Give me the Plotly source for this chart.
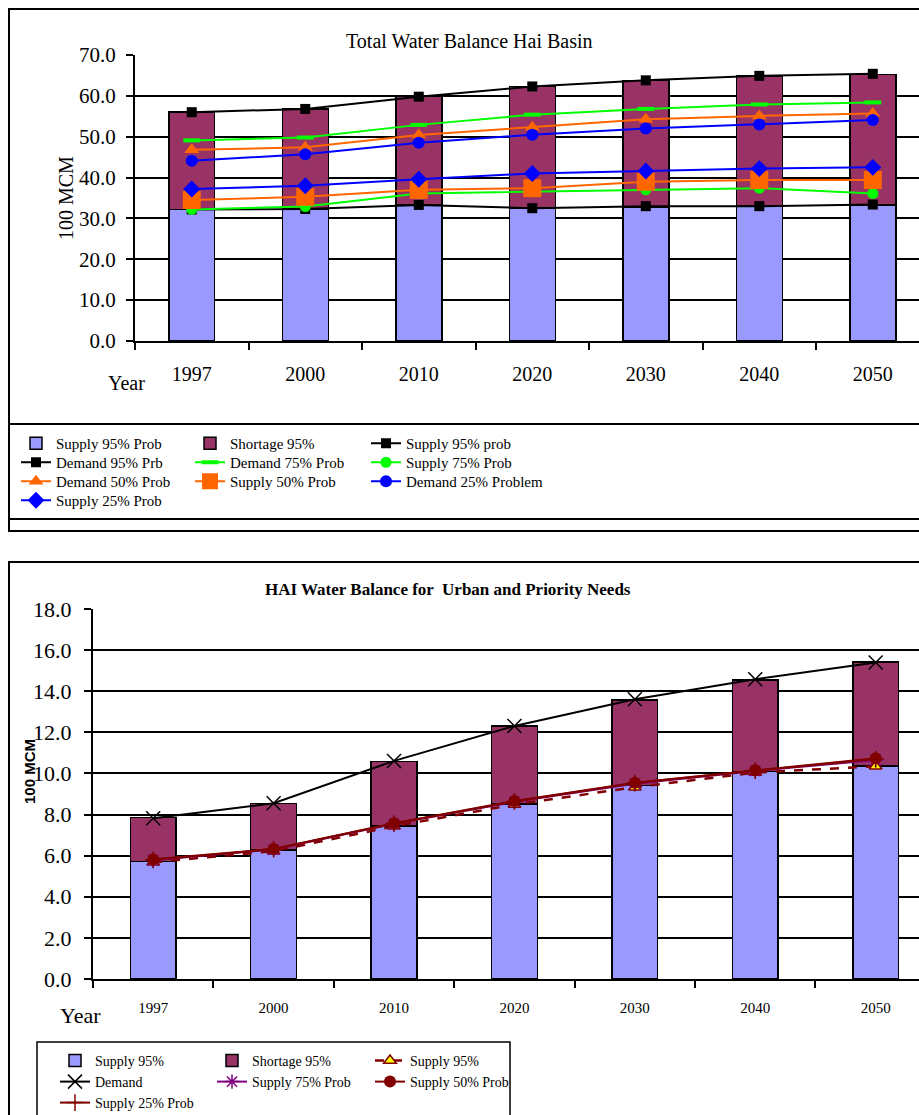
import plotly.graph_objects as go

W, H = 919, 1115

years = ["1997", "2000", "2010", "2020", "2030", "2040", "2050"]

# ---- Top chart: Total Water Balance Hai Basin (100 MCM)
t_supply95_bar = [32.2, 32.3, 33.3, 32.5, 32.8, 33.0, 33.3]
t_shortage95 = [23.8, 24.5, 26.5, 29.8, 30.9, 31.9, 31.9]
t_demand95 = [56.0, 56.8, 59.8, 62.3, 63.8, 64.9, 65.4]
t_supply95 = [32.2, 32.3, 33.3, 32.5, 33.0, 33.0, 33.4]
t_demand75 = [49.1, 49.8, 52.9, 55.4, 56.8, 57.9, 58.4]
t_supply75 = [32.2, 32.9, 36.1, 36.5, 37.0, 37.4, 36.1]
t_demand50 = [46.8, 47.4, 50.4, 52.3, 54.3, 55.1, 55.7]
t_supply50 = [34.5, 35.3, 37.0, 37.4, 39.0, 39.4, 39.4]
t_demand25 = [44.1, 45.7, 48.5, 50.5, 52.0, 53.0, 54.1]
t_supply25 = [37.2, 38.0, 39.6, 41.0, 41.6, 42.2, 42.5]

# ---- Bottom chart: HAI Water Balance for Urban and Priority Needs
b_supply95_bar = [5.71, 6.28, 7.45, 8.52, 9.41, 10.09, 10.36]
b_shortage95 = [2.14, 2.27, 3.13, 3.79, 4.17, 4.46, 5.06]
b_demand = [7.82, 8.55, 10.61, 12.31, 13.61, 14.58, 15.40]
b_supply95 = [5.68, 6.22, 7.43, 8.49, 9.33, 10.04, 10.35]
b_supply75 = [5.78, 6.30, 7.55, 8.62, 9.50, 10.12, 10.65]
b_supply50 = [5.82, 6.33, 7.58, 8.66, 9.55, 10.15, 10.74]
b_supply25 = [5.80, 6.32, 7.56, 8.64, 9.53, 10.14, 10.70]

SERIF = "Liberation Serif, Times New Roman, serif"
SUPPLY_C = "#9999FF"
SHORT_C = "#993366"
ORANGE = "#FF6600"
LIME = "#00FF00"
BLUE = "#0000FF"
DRED = "#800000"
PURPLE = "#800080"


def px(x):
    return x / W


def py(y):
    return 1 - y / H


# legend slots: text-left x px and row-centre y px
TOP_COLS = [56, 230, 406]
TOP_ROWS = [444, 463, 482, 501]
BOT_COLS = [95, 252, 410]
BOT_ROWS = [1062, 1083, 1104]
TOP_FS = 15
BOT_FS = 14

legend_layout = {}
_legend_count = [0]


def new_legend(col_x, row_y, size):
    _legend_count[0] += 1
    n = _legend_count[0]
    key = "legend" if n == 1 else f"legend{n}"
    legend_layout[key] = dict(bgcolor="rgba(0,0,0,0)", borderwidth=0, orientation="v", traceorder="normal",
                              xanchor="left", yanchor="top", tracegroupgap=0, itemclick=False,
                              itemdoubleclick=False, visible=True,
                              x=px(col_x - 40), y=py(row_y - 17), font=dict(family=SERIF, size=size))
    return key


fig = go.Figure()

# ---------- top chart traces
fig.add_trace(go.Bar(x=years, y=t_supply95_bar, name="Supply 95% Prob", showlegend=True,
                     marker=dict(color=SUPPLY_C, line=dict(color="black", width=1.5)),
                     width=0.405, xaxis="x", yaxis="y", legend=new_legend(TOP_COLS[0], TOP_ROWS[0], TOP_FS)))
fig.add_trace(go.Bar(x=years, y=t_shortage95, name="Shortage 95%", showlegend=True,
                     marker=dict(color=SHORT_C, line=dict(color="black", width=1.5)),
                     width=0.405, xaxis="x", yaxis="y", legend=new_legend(TOP_COLS[1], TOP_ROWS[0], TOP_FS)))


def tline(y, name, color, symbol, size, col, row, mline=None):
    m = dict(color=color, symbol=symbol, size=size)
    if mline:
        m["line"] = mline
    fig.add_trace(go.Scatter(x=years, y=y, name=name, mode="lines+markers", line=dict(color=color, width=2),
                             marker=m, xaxis="x", yaxis="y", showlegend=True,
                             legend=new_legend(TOP_COLS[col], TOP_ROWS[row], TOP_FS)))


tline(t_supply95, "Supply 95% prob", "black", "square", 10, 2, 0)
tline(t_demand95, "Demand 95% Prb", "black", "square", 10, 0, 1)
tline(t_demand75, "Demand 75% Prob", LIME, "line-ew", 12, 1, 1, mline=dict(color=LIME, width=4))
tline(t_supply75, "Supply 75% Prob", LIME, "circle", 11, 2, 1)
tline(t_demand50, "Demand 50% Prob", ORANGE, "triangle-up", 13, 0, 2)
tline(t_supply50, "Supply 50% Prob", ORANGE, "square", 18, 1, 2)
tline(t_demand25, "Demand 25% Problem", BLUE, "circle", 12, 2, 2)
tline(t_supply25, "Supply 25% Prob", BLUE, "diamond", 13, 0, 3)

# ---------- bottom chart traces
fig.add_trace(go.Bar(x=years, y=b_supply95_bar, name="Supply 95%", showlegend=True,
                     marker=dict(color=SUPPLY_C, line=dict(color="black", width=1.5)),
                     width=0.38, xaxis="x2", yaxis="y2", legend=new_legend(BOT_COLS[0], BOT_ROWS[0], BOT_FS)))
fig.add_trace(go.Bar(x=years, y=b_shortage95, name="Shortage 95%", showlegend=True,
                     marker=dict(color=SHORT_C, line=dict(color="black", width=1.5)),
                     width=0.38, xaxis="x2", yaxis="y2", legend=new_legend(BOT_COLS[1], BOT_ROWS[0], BOT_FS)))
fig.add_trace(go.Scatter(x=years, y=b_supply95, name="Supply 95%", mode="lines+markers", showlegend=True,
                         line=dict(color=DRED, width=2.5, dash="dash"),
                         marker=dict(symbol="triangle-up", size=11, color="#FFFF00", line=dict(color=DRED, width=1.5)),
                         xaxis="x2", yaxis="y2", legend=new_legend(BOT_COLS[2], BOT_ROWS[0], BOT_FS)))
fig.add_trace(go.Scatter(x=years, y=b_demand, name="Demand", mode="lines+markers", showlegend=True,
                         line=dict(color="black", width=2),
                         marker=dict(symbol="x-thin-open", size=14, color="black", line=dict(color="black", width=1.5)),
                         xaxis="x2", yaxis="y2", legend=new_legend(BOT_COLS[0], BOT_ROWS[1], BOT_FS)))
fig.add_trace(go.Scatter(x=years, y=b_supply75, name="Supply 75% Prob", mode="lines+markers", showlegend=True,
                         line=dict(color=PURPLE, width=2),
                         marker=dict(symbol="asterisk-open", size=12, color=PURPLE, line=dict(color=PURPLE, width=1.5)),
                         xaxis="x2", yaxis="y2", legend=new_legend(BOT_COLS[1], BOT_ROWS[1], BOT_FS)))
fig.add_trace(go.Scatter(x=years, y=b_supply50, name="Supply 50% Prob", mode="lines+markers", showlegend=True,
                         line=dict(color=DRED, width=2),
                         marker=dict(symbol="circle", size=12, color=DRED),
                         xaxis="x2", yaxis="y2", legend=new_legend(BOT_COLS[2], BOT_ROWS[1], BOT_FS)))
fig.add_trace(go.Scatter(x=years, y=b_supply25, name="Supply 25% Prob", mode="lines+markers", showlegend=True,
                         line=dict(color=DRED, width=2),
                         marker=dict(symbol="cross-thin-open", size=12, color=DRED, line=dict(color=DRED, width=1.5)),
                         xaxis="x2", yaxis="y2", legend=new_legend(BOT_COLS[0], BOT_ROWS[2], BOT_FS)))

axis_common = dict(showline=True, linecolor="black", linewidth=2, ticks="outside", tickcolor="black",
                   ticklen=7, tickwidth=1.5, zeroline=False)

fig.update_layout(
    width=W, height=H,
    showlegend=True,
    margin=dict(l=0, r=0, t=0, b=0, autoexpand=False),
    paper_bgcolor="white", plot_bgcolor="white",
    barmode="stack",
    font=dict(family=SERIF, color="black"),
    xaxis=dict(axis_common, type="category", domain=[px(135), 1.0], range=[-0.5, 6.407], tickson="boundaries",
               showgrid=False, tickfont=dict(family=SERIF, size=20), ticklabelstandoff=14, anchor="y"),
    yaxis=dict(axis_common, domain=[py(341), py(55)], range=[0, 70], dtick=10, tickformat=".1f",
               showgrid=True, gridcolor="black", gridwidth=1.5, tickfont=dict(family=SERIF, size=21),
               ticklabelstandoff=6, anchor="x"),
    xaxis2=dict(axis_common, type="category", domain=[px(93), 1.0], range=[-0.5, 6.36], tickson="boundaries",
                showgrid=False, tickfont=dict(family=SERIF, size=15), ticklabelstandoff=14, anchor="y2"),
    yaxis2=dict(axis_common, domain=[py(979), py(609)], range=[0, 18], dtick=2, tickformat=".1f",
                showgrid=True, gridcolor="black", gridwidth=1.5, tickfont=dict(family=SERIF, size=22),
                ticklabelstandoff=8, anchor="x2"),
    shapes=[
        dict(type="rect", xref="paper", yref="paper", x0=px(9), x1=px(940), y0=py(531), y1=py(9),
             line=dict(color="black", width=2), layer="below"),
        dict(type="rect", xref="paper", yref="paper", x0=px(9), x1=px(940), y0=py(519), y1=py(424),
             line=dict(color="black", width=2), layer="below"),
        dict(type="rect", xref="paper", yref="paper", x0=px(9), x1=px(940), y0=py(1130), y1=py(562),
             line=dict(color="black", width=2), layer="below"),
        dict(type="rect", xref="paper", yref="paper", x0=px(37), x1=px(510), y0=py(1130), y1=py(1042),
             line=dict(color="black", width=1.5), layer="below"),
    ],
    annotations=[
        dict(text="Total Water Balance Hai Basin", xref="paper", yref="paper", x=px(470), y=py(41),
             xanchor="center", yanchor="middle", showarrow=False, font=dict(family=SERIF, size=20)),
        dict(text="100 MCM", xref="paper", yref="paper", x=px(66), y=py(198), textangle=-90,
             xanchor="center", yanchor="middle", showarrow=False, font=dict(family=SERIF, size=20)),
        dict(text="Year", xref="paper", yref="paper", x=px(126), y=py(383),
             xanchor="center", yanchor="middle", showarrow=False, font=dict(family=SERIF, size=20)),
        dict(text="<b>HAI Water Balance for  Urban and Priority Needs</b>", xref="paper", yref="paper",
             x=px(448), y=py(589), xanchor="center", yanchor="middle", showarrow=False,
             font=dict(family=SERIF, size=17)),
        dict(text="<b>100 MCM</b>", xref="paper", yref="paper", x=px(29), y=py(772), textangle=-90,
             xanchor="center", yanchor="middle", showarrow=False,
             font=dict(family="Liberation Sans Narrow, Liberation Sans, Arial, sans-serif", size=15)),
        dict(text="Year", xref="paper", yref="paper", x=px(80), y=py(1015),
             xanchor="center", yanchor="middle", showarrow=False, font=dict(family=SERIF, size=22)),
    ],
)
fig.update_layout(**legend_layout)

fig.write_html("out.html", config={"displayModeBar": False},
               post_script="document.body.style.margin='0';")
